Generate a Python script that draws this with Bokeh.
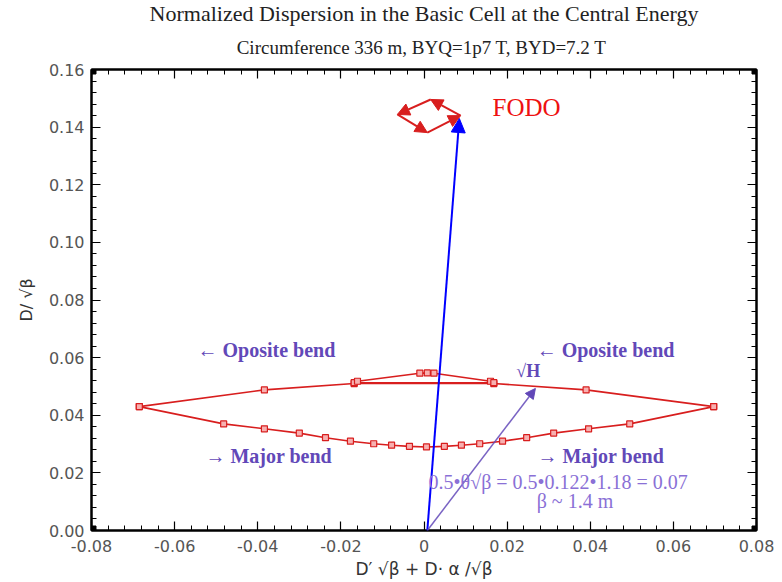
from bokeh.plotting import figure
from bokeh.models import (Range1d, FixedTicker, LinearAxis, Label, Arrow, NormalHead, Title)
from bokeh.embed import file_html
from bokeh.resources import INLINE

# ---- data ----
lower_x = [-0.0685, -0.0482, -0.0384, -0.0300, -0.0237, -0.0177, -0.0121, -0.0078, -0.0035, 0.0006,
           0.0049, 0.0090, 0.0134, 0.0189, 0.0247, 0.0312, 0.0396, 0.0495, 0.0697]
lower_y = [0.0430, 0.0370, 0.0353, 0.0338, 0.0322, 0.0310, 0.0301, 0.0296, 0.0292, 0.0290,
           0.0292, 0.0296, 0.0301, 0.0310, 0.0322, 0.0338, 0.0353, 0.0370, 0.0430]
upper_x = [-0.0685, -0.0384, -0.0168, 0.0168, 0.0390, 0.0697]
upper_y = [0.0430, 0.0488, 0.0510, 0.0510, 0.0488, 0.0430]
loop_x = [-0.0168, -0.0160, -0.0010, 0.0008, 0.0024, 0.0160, 0.0168, -0.0168]
loop_y = [0.0513, 0.0518, 0.0546, 0.0547, 0.0546, 0.0518, 0.0513, 0.0513]
fodo_x = [0.0088, 0.0016, -0.0064, 0.0008, 0.0088]
fodo_y = [0.1440, 0.1496, 0.1444, 0.1381, 0.1440]
blue_vec = {"x0": 0.0008, "y0": 0.0, "x1": 0.0085, "y1": 0.1430}
h_vec = {"x0": 0.0008, "y0": 0.0, "x1": 0.0268, "y1": 0.0493}
x_ticks = [-0.08, -0.06, -0.04, -0.02, 0.0, 0.02, 0.04, 0.06, 0.08]
y_ticks = [0.00, 0.02, 0.04, 0.06, 0.08, 0.10, 0.12, 0.14, 0.16]
x_tick_labels = ["-0.08", "-0.06", "-0.04", "-0.02", "0", "0.02", "0.04", "0.06", "0.08"]
y_tick_labels = ["0.00", "0.02", "0.04", "0.06", "0.08", "0.10", "0.12", "0.14", "0.16"]
x_minor = [round(-0.08 + 0.004 * i, 4) for i in range(41)]
y_minor = [round(0.004 * i, 4) for i in range(41)]

RED = "#d81e1e"
PURPLE = "#6248b8"
LIGHT_PURPLE = "#8a70d6"

p = figure(width=782, height=582, output_backend="svg", toolbar_location=None,
           x_range=Range1d(-0.08, 0.08), y_range=Range1d(0, 0.16),
           x_axis_location=None, y_axis_location=None,
           min_border_left=91, min_border_right=26, min_border_top=69, min_border_bottom=52,
           background_fill_color="white", border_fill_color="white")
p.grid.visible = False
p.outline_line_color = "black"
p.outline_line_width = 2

def make_axis(ticks, minor, labels, show_labels):
    ax = LinearAxis(ticker=FixedTicker(ticks=ticks, minor_ticks=minor))
    ax.major_label_overrides = {t: l for t, l in zip(ticks, labels)}
    ax.major_tick_in = 9
    ax.major_tick_out = 0
    ax.minor_tick_in = 5
    ax.minor_tick_out = 0
    ax.axis_line_width = 2
    ax.major_tick_line_width = 1.2
    ax.major_label_text_font = "DejaVu Sans"
    ax.major_label_text_font_size = "16px" if show_labels else "0px"
    ax.major_label_text_color = "#555555"
    ax.major_label_standoff = 7 if show_labels else 0
    return ax

xb = make_axis(x_ticks, x_minor, x_tick_labels, True)
xb.major_label_standoff = 9
xb.axis_label = "D\u2032 \u221a\u03b2 + D\u00b7 \u03b1 /\u221a\u03b2"
xb.axis_label_text_font = "DejaVu Sans"
xb.axis_label_text_font_style = "normal"
xb.axis_label_text_font_size = "17px"
xb.axis_label_text_color = "#333333"
xb.axis_label_standoff = 4
p.add_layout(xb, "below")

yl = make_axis(y_ticks, y_minor, y_tick_labels, True)
yl.axis_label = "D/ \u221a\u03b2"
yl.axis_label_text_font = "DejaVu Sans"
yl.axis_label_text_font_style = "normal"
yl.axis_label_text_font_size = "16px"
yl.axis_label_text_color = "#333333"
yl.axis_label_standoff = 10
p.add_layout(yl, "left")

p.add_layout(make_axis(x_ticks, x_minor, x_tick_labels, False), "above")
p.add_layout(make_axis(y_ticks, y_minor, y_tick_labels, False), "right")

p.add_layout(Title(text="Circumference 336 m,  BYQ=1p7 T, BYD=7.2 T", align="center",
                   text_font="Liberation Serif", text_font_size="19px", text_font_style="normal",
                   text_color="#222222", standoff=23), "above")
p.add_layout(Title(text="Normalized Dispersion in the Basic Cell at the Central Energy", align="center",
                   text_font="Liberation Serif", text_font_size="22px", text_font_style="normal",
                   text_color="#222222", standoff=-5), "above")

# curves
p.line(lower_x, lower_y, line_color=RED, line_width=1.6)
p.line(upper_x, upper_y, line_color=RED, line_width=1.6)
p.line(loop_x, loop_y, line_color=RED, line_width=1.6)
mk = dict(marker="square", size=6, line_color=RED, fill_color="#f7b0b0", line_width=1.2)
p.scatter(lower_x, lower_y, **mk)
p.scatter(upper_x, upper_y, **mk)
p.scatter(loop_x[:-1], loop_y[:-1], **mk)

# corner squares
p.scatter([-0.08, 0.08, -0.08, 0.08], [0, 0, 0.16, 0.16], marker="square", size=9,
          fill_color="black", line_color="black")

# FODO loop arrows
for i in range(len(fodo_x) - 1):
    p.add_layout(Arrow(end=NormalHead(size=12, fill_color=RED, line_color=RED),
                       x_start=fodo_x[i], y_start=fodo_y[i], x_end=fodo_x[i + 1], y_end=fodo_y[i + 1],
                       line_color=RED, line_width=2))

# blue vector
p.add_layout(Arrow(end=NormalHead(size=14, fill_color="blue", line_color="blue"),
                   x_start=blue_vec["x0"], y_start=blue_vec["y0"], x_end=blue_vec["x1"], y_end=blue_vec["y1"],
                   line_color="blue", line_width=2))
# sqrt(H) vector
p.add_layout(Arrow(end=NormalHead(size=10, fill_color=PURPLE, line_color=PURPLE),
                   x_start=h_vec["x0"], y_start=h_vec["y0"], x_end=h_vec["x1"], y_end=h_vec["y1"],
                   line_color=PURPLE, line_width=1.5, line_alpha=0.85))

def lab(x, y, text, size="20px", color=PURPLE, style="bold", font="Liberation Serif", align="left"):
    p.add_layout(Label(x=x, y=y, text=text, text_font=font, text_font_size=size,
                       text_font_style=style, text_color=color, text_align=align,
                       text_baseline="middle"))

lab(-0.0545, 0.0625, "\u2190 Oposite bend")
lab(0.0271, 0.0628, "\u2190 Oposite bend")
lab(0.0222, 0.0555, "\u221aH", size="18px")
lab(-0.0526, 0.0260, "\u2192 Major bend")
lab(0.0273, 0.0257, "\u2192 Major bend")
lab(0.0011, 0.0170, "0.5\u2022\u03b8\u221a\u03b2 = 0.5\u20220.122\u20221.18 = 0.07", size="20px",
    color=LIGHT_PURPLE, style="normal")
lab(0.0271, 0.0104, "\u03b2 ~ 1.4 m", size="20px", color=LIGHT_PURPLE, style="normal")
lab(0.0165, 0.1468, "FODO", size="25px", color="#ee1111", style="normal")

open("out.html", "w").write(file_html(p, INLINE))
